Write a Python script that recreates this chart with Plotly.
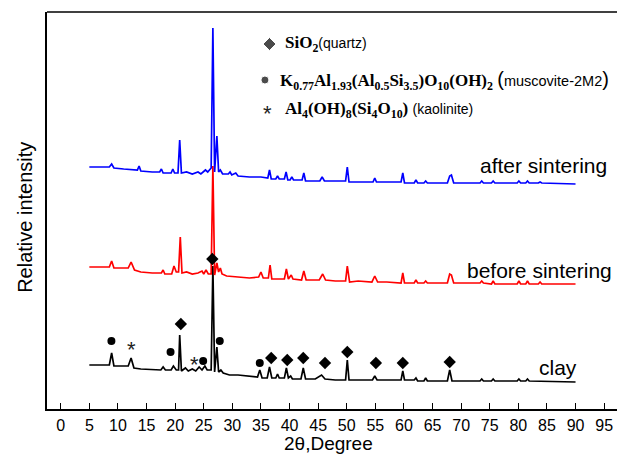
import plotly.graph_objects as go

# ---------------- data (2θ in degrees, relative intensity in arbitrary offset units) -------------
clay_x = [5.0, 7.0, 8.5, 8.9, 9.3, 10.5, 11.8, 12.3, 12.8, 14.0, 16.0, 17.5, 17.9, 18.3,
          19.3, 19.7, 20.2, 20.6, 20.8, 21.1, 21.8, 22.3, 23.0, 23.6, 24.2, 24.7, 25.2, 25.6,
          26.3, 26.6, 26.9, 27.3, 27.6, 28.0, 28.4, 29.5, 31.0, 32.5, 34.4, 34.8, 35.2, 36.1,
          36.5, 36.9, 37.6, 37.9, 38.2, 39.1, 39.45, 39.8, 40.2, 40.5, 42.0, 42.4, 42.8, 44.5,
          45.6, 46.2, 48.0, 49.8, 50.1, 50.4, 52.0, 54.5, 54.9, 55.3, 57.0, 59.5, 59.8, 60.1,
          61.8, 62.1, 62.4, 63.5, 63.8, 64.1, 67.6, 68.0, 68.4, 73.3, 73.6, 73.9, 75.3, 75.6,
          75.9, 79.8, 80.1, 80.4, 81.3, 81.6, 81.9, 90.0]
clay_y = [44, 44, 44, 56, 43, 43, 43, 51, 41, 40, 39, 39, 42, 39,
          39, 43, 39, 39, 74, 38, 41, 38, 40, 38, 42, 39, 43, 39,
          39, 143, 37, 62, 37, 39, 36, 34, 34, 33, 32, 39, 31, 31,
          42, 31, 31, 35, 31, 31, 41, 31, 33, 30, 30, 41, 30, 30,
          34, 30, 29, 29, 49, 29, 29, 29, 33, 29, 29, 29, 38, 29,
          29, 31, 28, 28, 31, 28, 28, 39, 28, 28, 30, 28, 28, 30,
          28, 28, 30, 28, 28, 30, 28, 27]

before_x = [5.0, 7.0, 8.5, 8.9, 9.3, 11.8, 12.3, 12.9, 14.0, 16.0, 17.6, 17.9, 18.2, 19.4,
            19.8, 20.2, 20.6, 20.9, 21.2, 22.0, 23.0, 24.0, 24.7, 25.0, 25.4, 25.8, 26.3,
            26.6, 26.9, 27.3, 27.6, 27.9, 28.2, 29.0, 31.0, 33.0, 34.6, 35.0, 35.4, 36.3,
            36.6, 36.9, 38.0, 39.1, 39.45, 39.8, 40.3, 40.6, 42.1, 42.5, 42.9, 45.2, 45.8,
            46.3, 48.0, 49.8, 50.1, 50.5, 52.0, 54.4, 54.9, 55.4, 57.0, 59.5, 59.8, 60.1,
            61.8, 62.1, 62.4, 63.5, 63.8, 64.1, 67.6, 68.0, 68.3, 68.7, 73.3, 73.6, 73.9,
            75.3, 75.6, 75.9, 79.8, 80.1, 80.4, 81.3, 81.6, 81.9, 83.5, 83.8, 84.1, 90.0]
before_y = [142, 142, 142, 148, 141, 141, 147, 139, 137, 136, 136, 139, 135, 135,
            143, 137, 137, 172, 136, 137, 135, 136, 138, 135, 139, 135, 135,
            243, 134, 146, 137, 141, 135, 133, 132, 131, 132, 137, 131, 131,
            144, 130, 130, 130, 140, 130, 134, 130, 129, 138, 129, 129, 135,
            129, 128, 128, 143, 127, 128, 127, 133, 127, 127, 126, 136, 126,
            126, 129, 126, 126, 128, 126, 126, 135, 134, 126, 126, 128, 126,
            125, 128, 125, 125, 128, 125, 125, 128, 125, 125, 127, 125, 125]

after_x = [5.0, 7.0, 8.5, 8.9, 9.3, 11.0, 13.4, 13.7, 14.0, 16.0, 17.3, 17.6, 17.9, 19.3,
           19.6, 19.9, 20.5, 20.8, 21.1, 22.0, 23.0, 24.0, 24.5, 25.3, 25.7, 26.3, 26.6,
           26.9, 27.3, 27.6, 27.9, 28.3, 29.3, 29.6, 29.9, 30.6, 31.0, 33.0, 35.0, 36.2,
           36.5, 36.8, 37.6, 37.9, 38.2, 39.1, 39.4, 39.7, 40.1, 40.4, 40.7, 42.2, 42.5,
           42.8, 45.3, 45.7, 46.1, 48.0, 49.8, 50.1, 50.4, 52.0, 54.6, 54.9, 55.2, 57.0,
           59.5, 59.8, 60.1, 61.8, 62.1, 62.4, 63.5, 63.8, 64.1, 67.6, 68.0, 68.3, 68.7,
           73.3, 73.6, 73.9, 75.3, 75.6, 75.9, 79.8, 80.1, 80.4, 81.3, 81.6, 81.9, 83.5,
           83.8, 84.1, 90.0]
after_y = [242, 242, 242, 245, 241, 240, 239, 243, 238, 237, 237, 240, 236, 236,
           240, 236, 236, 269, 236, 237, 235, 237, 235, 239, 237, 241, 381,
           237, 273, 237, 239, 235, 235, 237, 234, 236, 233, 232, 232, 231,
           239, 230, 230, 233, 230, 230, 237, 229, 229, 232, 229, 229, 236,
           228, 228, 232, 228, 228, 228, 242, 227, 227, 227, 231, 227, 227,
           227, 236, 226, 226, 229, 226, 226, 228, 226, 226, 233, 234, 226,
           226, 228, 226, 226, 228, 226, 226, 228, 226, 226, 228, 226, 226,
           227, 226, 225]

# phase markers above the clay pattern
quartz_x = [21.0, 26.5, 36.8, 39.6, 42.4, 46.2, 50.1, 55.1, 59.8, 68.0]
quartz_y = [85, 150, 51, 49, 51, 46, 57, 46, 46, 47]
muscovite_x = [8.86, 19.2, 24.9, 27.8, 34.8]
muscovite_y = [68, 57, 48, 68, 46]
kaolinite_x = [12.3, 23.4]
kaolinite_y = [63, 48]

x_ticks = list(range(0, 100, 5))
series_labels = ["after sintering", "before sintering", "clay"]

# ---------------- figure -------------------------------------------------------------------
fig = go.Figure()
fig.add_trace(go.Scatter(x=clay_x, y=clay_y, mode="lines",
                         line=dict(color="black", width=1.7), hoverinfo="skip"))
fig.add_trace(go.Scatter(x=before_x, y=before_y, mode="lines",
                         line=dict(color="#ff0000", width=1.7), hoverinfo="skip"))
fig.add_trace(go.Scatter(x=after_x, y=after_y, mode="lines",
                         line=dict(color="#0000ff", width=1.7), hoverinfo="skip"))

fig.add_trace(go.Scatter(x=quartz_x, y=quartz_y, mode="markers", hoverinfo="skip",
                         marker=dict(symbol="diamond", size=9.5, color="black")))
fig.add_trace(go.Scatter(x=muscovite_x, y=muscovite_y, mode="markers", hoverinfo="skip",
                         marker=dict(symbol="circle", size=8, color="black")))

annotations = []
for kx, ky in zip(kaolinite_x, kaolinite_y):
    annotations.append(dict(x=kx, y=ky, text="*", showarrow=False, yshift=-3,
                            font=dict(family="Liberation Sans", size=22, color="#222")))

# legend block (key glyphs + text)
fig.add_trace(go.Scatter(x=[36.5, 35.7], y=[365, 329], mode="markers", hoverinfo="skip",
                         marker=dict(symbol=["diamond", "circle"], size=[10, 8], color="black")))
annotations.append(dict(x=36.2, y=299, text="*", showarrow=False, yshift=-3,
                        font=dict(family="Liberation Sans", size=22, color="#222")))

sans = "font-family:'Liberation Sans',Arial;font-weight:normal"
annotations.append(dict(
    x=38.8, y=365, xanchor="left", showarrow=False,
    text="<b>SiO<sub>2</sub></b>" + f"<span style=\"{sans};font-size:14px\">(quartz)</span>",
    font=dict(family="Liberation Serif", size=17, color="black")))
annotations.append(dict(
    x=37.9, y=329, xanchor="left", showarrow=False,
    text="<b>K<sub>0.77</sub>Al<sub>1.93</sub>(Al<sub>0.5</sub>Si<sub>3.5</sub>)O<sub>10</sub>(OH)<sub>2</sub></b> "
         + f"<span style=\"{sans};font-size:20px\">(</span>"
         + f"<span style=\"{sans};font-size:14.5px\">muscovite-2M2</span>"
         + f"<span style=\"{sans};font-size:20px\">)</span>",
    font=dict(family="Liberation Serif", size=17, color="black")))
annotations.append(dict(
    x=38.8, y=299, xanchor="left", showarrow=False,
    text="<b>Al<sub>4</sub>(OH)<sub>8</sub>(Si<sub>4</sub>O<sub>10</sub>)</b> "
         + f"<span style=\"{sans};font-size:14px\">(kaolinite)</span>",
    font=dict(family="Liberation Serif", size=17, color="black")))

# series labels
label_pos = [(84.4, 244), (83.7, 139), (86.9, 42)]
for (lx, ly), lab in zip(label_pos, series_labels):
    annotations.append(dict(x=lx, y=ly, text=lab, showarrow=False,
                            font=dict(family="Liberation Sans", size=21, color="black")))

# axis titles
annotations.append(dict(x=-0.0386, y=0.484, xref="paper", yref="paper", text="Relative intensity",
                        textangle=-90, showarrow=False, xanchor="center", yanchor="middle",
                        font=dict(family="Liberation Sans", size=20, color="black")))
annotations.append(dict(x=0.493, y=-0.087, xref="paper", yref="paper", text="2θ,Degree",
                        showarrow=False, xanchor="center", yanchor="middle",
                        font=dict(family="Liberation Sans", size=19, color="black")))

fig.update_layout(
    width=617, height=461,
    margin=dict(l=47, r=0, t=12, b=52),
    paper_bgcolor="white", plot_bgcolor="white",
    showlegend=False,
    hovermode=False,
    annotations=annotations,
    shapes=[dict(type="line", xref="paper", yref="paper", x0=0, x1=1, y0=1, y1=1,
                 line=dict(color="black", width=1.5))],
    xaxis=dict(range=[-2.4, 97.25], tickvals=x_ticks, ticktext=[str(v) for v in x_ticks],
               ticks="inside", ticklen=6, tickwidth=1.3, tickcolor="black",
               showline=True, linecolor="black", linewidth=1.5, showgrid=False, zeroline=False,
               tickfont=dict(family="Liberation Sans", size=16, color="black"),
               ticklabelstandoff=1, automargin=False),
    yaxis=dict(range=[0, 397], showticklabels=False, ticks="", showgrid=False, zeroline=False,
               showline=True, linecolor="black", linewidth=1.5, automargin=False),
)

fig.write_html("out.html", config={"displayModeBar": False},
               post_script="document.body.style.margin='0';document.body.style.padding='0';")
